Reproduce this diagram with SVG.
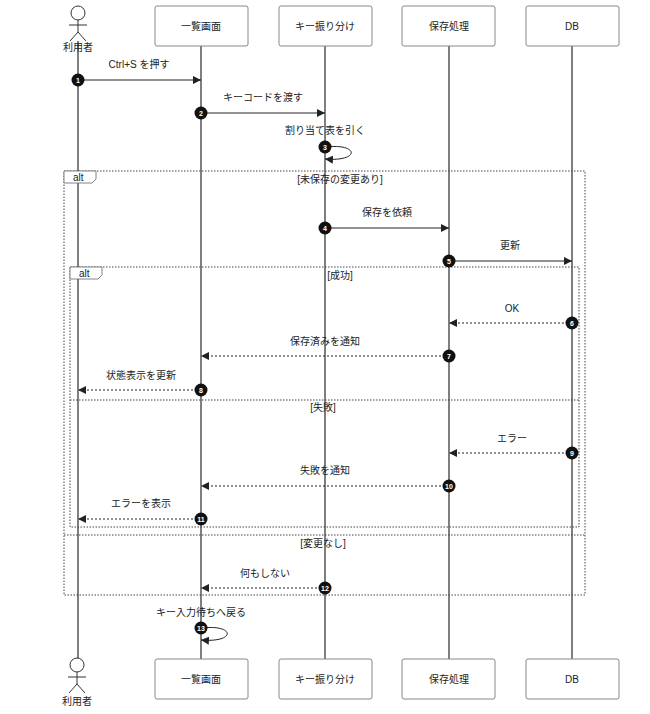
<svg xmlns="http://www.w3.org/2000/svg" width="650" height="714" viewBox="0 0 650 714">
<style>
text{font-family:"Liberation Sans","Noto Sans CJK JP",sans-serif;font-size:10px;fill:#222}
.lbl{text-anchor:middle}
.box{fill:#fff;stroke:#888;stroke-width:1}
.life{stroke:#555;stroke-width:1.5}
.msg{stroke:#222;stroke-width:1;fill:none}
.dash{stroke-dasharray:2,2}
.frame{fill:none;stroke:#444;stroke-width:1;stroke-dasharray:1.5,1.5}
.num{fill:#111}
.nt{fill:#fff;font-size:7px;font-weight:bold;text-anchor:middle}
.actor{fill:#fff;stroke:#333;stroke-width:1}
</style>
<defs><marker id="ah" markerWidth="8" markerHeight="8" refX="8" refY="4" orient="auto" markerUnits="userSpaceOnUse"><path d="M0,0 L8,4 L0,8 z" fill="#222"/></marker></defs>
<rect width="650" height="714" fill="#fff"/>
<g id="lifelines">
<line class="life" x1="78" y1="40" x2="78" y2="665"/>
<line class="life" x1="201" y1="46" x2="201" y2="659"/>
<line class="life" x1="325" y1="46" x2="325" y2="659"/>
<line class="life" x1="449" y1="46" x2="449" y2="659"/>
<line class="life" x1="572" y1="46" x2="572" y2="659"/>
</g>
<g id="user-top"><circle class="actor" cx="78" cy="13" r="7"/><path class="actor" d="M78,20 V32 M69,25 H87 M70,41 L78,32 L86,41"/><text class="lbl" x="78" y="51">利用者</text></g>
<g id="user-bottom"><circle class="actor" cx="77" cy="665" r="7"/><path class="actor" d="M77,672 V684 M68,677 H86 M69,693 L77,684 L85,693"/><text class="lbl" x="77" y="705">利用者</text></g>
<g id="p1"><rect class="box" x="155" y="6" width="93" height="40" rx="2"/><text class="lbl" x="201" y="30">一覧画面</text></g>
<g id="p2"><rect class="box" x="279" y="6" width="93" height="40" rx="2"/><text class="lbl" x="325" y="30">キー振り分け</text></g>
<g id="p3"><rect class="box" x="402" y="6" width="93" height="40" rx="2"/><text class="lbl" x="449" y="30">保存処理</text></g>
<g id="p4"><rect class="box" x="526" y="6" width="93" height="40" rx="2"/><text class="lbl" x="572" y="30">DB</text></g>
<g id="p1b"><rect class="box" x="155" y="659" width="93" height="40" rx="2"/><text class="lbl" x="201" y="683">一覧画面</text></g>
<g id="p2b"><rect class="box" x="279" y="659" width="93" height="40" rx="2"/><text class="lbl" x="325" y="683">キー振り分け</text></g>
<g id="p3b"><rect class="box" x="402" y="659" width="93" height="40" rx="2"/><text class="lbl" x="449" y="683">保存処理</text></g>
<g id="p4b"><rect class="box" x="526" y="659" width="93" height="40" rx="2"/><text class="lbl" x="572" y="683">DB</text></g>
<g id="frames">
<rect class="frame" x="64" y="171" width="521" height="424"/>
<path d="M64,171 H96 V179 L92,183 H64 Z" fill="#fff" stroke="#666" stroke-width="0.8"/>
<text x="73" y="181">alt</text>
<text class="lbl" x="340" y="183">[未保存の変更あり]</text>
<line class="frame" x1="64" y1="535" x2="585" y2="535"/>
<text class="lbl" x="323" y="547">[変更なし]</text>
<rect class="frame" x="70" y="267" width="509" height="260"/>
<path d="M70,267 H102 V275 L98,279 H70 Z" fill="#fff" stroke="#666" stroke-width="0.8"/>
<text x="79" y="277">alt</text>
<text class="lbl" x="340" y="279">[成功]</text>
<line class="frame" x1="70" y1="400" x2="579" y2="400"/>
<text class="lbl" x="323" y="411">[失敗]</text>
</g>
<g id="connectors">
<line class="msg" x1="78" y1="80" x2="201" y2="80" marker-end="url(#ah)"/>
<text class="lbl" x="139" y="68">Ctrl+S を押す</text>
<line class="msg" x1="201" y1="113" x2="325" y2="113" marker-end="url(#ah)"/>
<text class="lbl" x="263" y="101">キーコードを渡す</text>
<path class="msg" d="M325,147 C360,143 360,162 325,159" marker-end="url(#ah)"/>
<text class="lbl" x="325" y="134">割り当て表を引く</text>
<line class="msg" x1="325" y1="228" x2="449" y2="228" marker-end="url(#ah)"/>
<text class="lbl" x="387" y="216">保存を依頼</text>
<line class="msg" x1="449" y1="261" x2="572" y2="261" marker-end="url(#ah)"/>
<text class="lbl" x="510" y="249">更新</text>
<line class="msg dash" x1="572" y1="323" x2="449" y2="323" marker-end="url(#ah)"/>
<text class="lbl" x="512" y="312">OK</text>
<line class="msg dash" x1="449" y1="356" x2="201" y2="356" marker-end="url(#ah)"/>
<text class="lbl" x="325" y="345">保存済みを通知</text>
<line class="msg dash" x1="201" y1="390" x2="78" y2="390" marker-end="url(#ah)"/>
<text class="lbl" x="141" y="379">状態表示を更新</text>
<line class="msg dash" x1="572" y1="453" x2="449" y2="453" marker-end="url(#ah)"/>
<text class="lbl" x="512" y="442">エラー</text>
<line class="msg dash" x1="449" y1="486" x2="201" y2="486" marker-end="url(#ah)"/>
<text class="lbl" x="325" y="474">失敗を通知</text>
<line class="msg dash" x1="201" y1="519" x2="78" y2="519" marker-end="url(#ah)"/>
<text class="lbl" x="141" y="507">エラーを表示</text>
<line class="msg dash" x1="325" y1="588" x2="201" y2="588" marker-end="url(#ah)"/>
<text class="lbl" x="265" y="577">何もしない</text>
<path class="msg" d="M201,628 C236,624 236,643 201,640" marker-end="url(#ah)"/>
<text class="lbl" x="201" y="616">キー入力待ちへ戻る</text>
</g>
<g id="numbers">
<circle class="num" cx="78" cy="80" r="6.5"/><text class="nt" x="78" y="82.5">1</text>
<circle class="num" cx="201" cy="113" r="6.5"/><text class="nt" x="201" y="115.5">2</text>
<circle class="num" cx="325" cy="147" r="6.5"/><text class="nt" x="325" y="149.5">3</text>
<circle class="num" cx="325" cy="228" r="6.5"/><text class="nt" x="325" y="230.5">4</text>
<circle class="num" cx="449" cy="261" r="6.5"/><text class="nt" x="449" y="263.5">5</text>
<circle class="num" cx="572" cy="323" r="6.5"/><text class="nt" x="572" y="325.5">6</text>
<circle class="num" cx="449" cy="356" r="6.5"/><text class="nt" x="449" y="358.5">7</text>
<circle class="num" cx="201" cy="390" r="6.5"/><text class="nt" x="201" y="392.5">8</text>
<circle class="num" cx="572" cy="453" r="6.5"/><text class="nt" x="572" y="455.5">9</text>
<circle class="num" cx="449" cy="486" r="6.5"/><text class="nt" x="449" y="488.5">10</text>
<circle class="num" cx="201" cy="519" r="6.5"/><text class="nt" x="201" y="521.5">11</text>
<circle class="num" cx="325" cy="588" r="6.5"/><text class="nt" x="325" y="590.5">12</text>
<circle class="num" cx="201" cy="628" r="6.5"/><text class="nt" x="201" y="630.5">13</text>
</g>
</svg>
